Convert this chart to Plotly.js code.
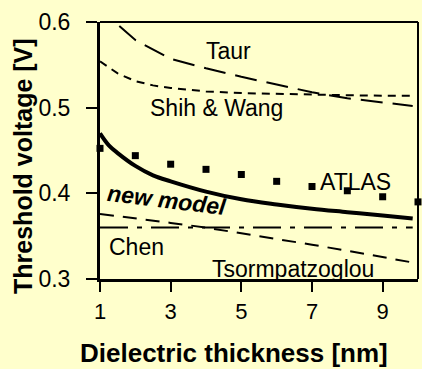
<!DOCTYPE html>
<html>
<head>
<meta charset="utf-8">
<script src="https://cdn.plot.ly/plotly-3.0.1.min.js"></script>
<style>html,body{margin:0;padding:0;background:#ffffcc;}#chart{width:422px;height:369px;}</style>
</head>
<body>
<div id="chart"></div>
<script>
// Data
const taurX = [1, 1.42, 2, 2.74, 3, 4, 5, 6, 7, 8, 9, 9.85];
const taurY = [0.625, 0.600, 0.579, 0.562, 0.557, 0.546, 0.536, 0.527, 0.518, 0.511, 0.506, 0.502];

const shihX = [1, 1.5, 2, 2.5, 3, 4, 5, 6, 7, 8, 9, 9.85];
const shihY = [0.554, 0.540, 0.531, 0.526, 0.523, 0.519, 0.517, 0.516, 0.515, 0.5145, 0.514, 0.514];

const newX = [1, 1.25, 1.5, 2, 2.5, 3, 4, 5, 6, 7, 8, 9, 9.85];
const newY = [0.470, 0.456, 0.447, 0.432, 0.421, 0.414, 0.402, 0.393, 0.387, 0.382, 0.378, 0.374, 0.3705];

const atlasX = [1, 2, 3, 4, 5, 6, 7, 8, 9, 10];
const atlasY = [0.4525, 0.444, 0.434, 0.428, 0.422, 0.414, 0.408, 0.403, 0.396, 0.390];

const chenX = [1, 9.85];
const chenY = [0.360, 0.360];

const tsormX = [1, 2, 3, 4, 5, 6, 7, 8, 9, 9.75];
const tsormY = [0.376, 0.371, 0.3655, 0.360, 0.3535, 0.347, 0.340, 0.333, 0.3255, 0.320];

const xTicks = [1, 3, 5, 7, 9];
const yTicks = [0.3, 0.4, 0.5, 0.6];

const xTitle = 'Dielectric thickness [nm]';
const yTitle = 'Threshold voltage [V]';

const labels = [
  {text: 'Taur', x: 4.63, y: 0.5656},
  {text: 'Shih &amp; Wang', x: 4.29, y: 0.4993},
  {text: 'ATLAS', x: 8.22, y: 0.4133},
  {text: 'Chen', x: 2.04, y: 0.3373},
  {text: 'Tsormpatzoglou', x: 6.46, y: 0.312}
];
const modelLabel = {text: '<b><i>new model</i></b>', x: 2.89, y: 0.392};

const FONT = 'Liberation Sans, Arial, sans-serif';
const BG = '#ffffcc';

const traces = [
  {x: taurX, y: taurY, mode: 'lines', line: {color: '#000', width: 2, dash: '22px,10px'}, name: 'Taur'},
  {x: shihX, y: shihY, mode: 'lines', line: {color: '#000', width: 2, dash: '8px,6px'}, name: 'Shih & Wang'},
  {x: chenX, y: chenY, mode: 'lines', line: {color: '#000', width: 2, dash: '28px,9px,5px,9px'}, name: 'Chen'},
  {x: tsormX, y: tsormY, mode: 'lines', line: {color: '#000', width: 2, dash: '14px,9px'}, name: 'Tsormpatzoglou'},
  {x: newX, y: newY, mode: 'lines', line: {color: '#000', width: 4, shape: 'spline'}, name: 'new model'},
  {x: atlasX, y: atlasY, mode: 'markers', marker: {symbol: 'square', size: 7, color: '#000'}, name: 'ATLAS', cliponaxis: false}
];

const annotations = labels.map(l => ({
  text: l.text, x: l.x, y: l.y, xref: 'x', yref: 'y', showarrow: false,
  font: {family: FONT, size: 23, color: '#000'}
}));
annotations.push({
  text: modelLabel.text, x: modelLabel.x, y: modelLabel.y, xref: 'x', yref: 'y', showarrow: false,
  textangle: 7, font: {family: FONT, size: 23, color: '#000'}
});
// axis titles (placed as annotations to match the reference offsets)
annotations.push({
  text: '<b>' + xTitle + '</b>', xref: 'paper', yref: 'paper', x: 0.42, y: -0.288,
  xanchor: 'center', yanchor: 'middle', showarrow: false,
  font: {family: FONT, size: 26, color: '#000'}
});
annotations.push({
  text: '<b>' + yTitle + '</b>', xref: 'paper', yref: 'paper', x: -0.242, y: 0.44,
  xanchor: 'center', yanchor: 'middle', showarrow: false, textangle: -90,
  font: {family: FONT, size: 25, color: '#000'}
});

const layout = {
  width: 422, height: 369,
  margin: {l: 100, r: 4, t: 22, b: 90, pad: 0},
  paper_bgcolor: BG, plot_bgcolor: BG,
  showlegend: false,
  font: {family: FONT, color: '#000'},
  xaxis: {
    range: [1, 10], tickvals: xTicks, ticktext: xTicks.map(String),
    ticks: 'outside', ticklen: 10, tickwidth: 2, tickcolor: '#000',
    showline: true, linewidth: 3, linecolor: '#000',
    showgrid: false, zeroline: false,
    tickfont: {family: FONT, size: 22, color: '#000'},
    ticklabelstandoff: 1
  },
  yaxis: {
    range: [0.3, 0.6], tickvals: yTicks, ticktext: yTicks.map(v => v.toFixed(1)),
    ticks: 'outside', ticklen: 11, tickwidth: 2, tickcolor: '#000',
    showline: true, linewidth: 3, linecolor: '#000',
    showgrid: false, zeroline: false,
    tickfont: {family: FONT, size: 23, color: '#000'},
    ticklabelstandoff: 11
  },
  shapes: [
    {type: 'line', xref: 'paper', yref: 'paper', x0: 0, x1: 1, y0: 1, y1: 1, line: {color: '#000', width: 2}},
    {type: 'line', xref: 'paper', yref: 'paper', x0: 1, x1: 1, y0: 0, y1: 1, line: {color: '#000', width: 2}}
  ],
  annotations: annotations
};

Plotly.newPlot('chart', traces, layout, {staticPlot: true, displayModeBar: false});
</script>
</body>
</html>
